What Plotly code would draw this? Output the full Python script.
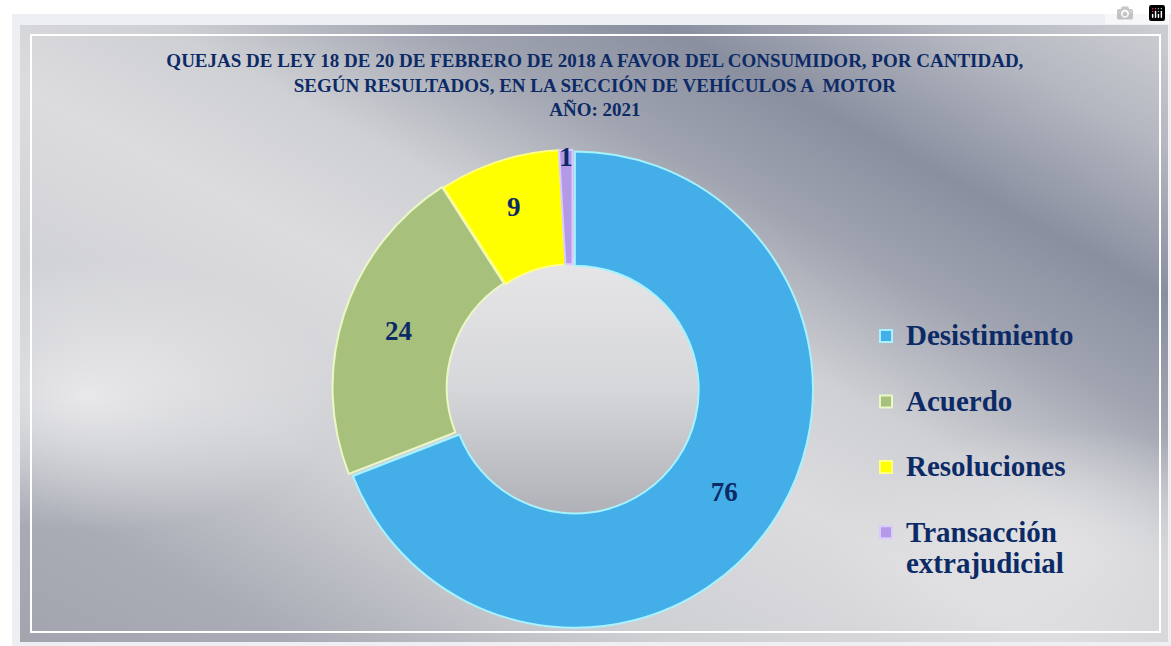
import base64
import plotly.graph_objects as go

# datos del grafico
categorias = ["Desistimiento", "Acuerdo", "Resoluciones", "Transacción<br>extrajudicial"]
cantidades = [76, 24, 9, 1]
colores = ["#43aee8", "#a7c07c", "#ffff00", "#b49ae6"]
bordes = ["#a6f2ff", "#eaf8c6", "#ffff80", "#dccaff"]

titulo = ("QUEJAS DE LEY 18 DE 20 DE FEBRERO DE 2018 A FAVOR DEL CONSUMIDOR, POR CANTIDAD,<br>"
          "SEGÚN RESULTADOS, EN LA SECCIÓN DE VEHÍCULOS A  MOTOR<br>AÑO: 2021")

W, H = 1171, 646
navy = "#0c2a66"

# fondo plateado (imagen svg)
svg = f"""<svg xmlns='http://www.w3.org/2000/svg' width='{W}' height='{H}' viewBox='0 0 {W} {H}' preserveAspectRatio='none'>
<defs>
<linearGradient id='base' x1='0' y1='1' x2='1' y2='0'>
<stop offset='0' stop-color='#a2a5ae'/><stop offset='0.12' stop-color='#a9acb5'/>
<stop offset='0.28' stop-color='#cfd0d4'/><stop offset='0.45' stop-color='#dcdcdf'/>
<stop offset='0.56' stop-color='#cfd0d4'/><stop offset='0.68' stop-color='#a0a4b0'/>
<stop offset='0.78' stop-color='#8a8fa0'/><stop offset='0.9' stop-color='#b4b7c0'/>
<stop offset='1' stop-color='#cdced3'/></linearGradient>
<radialGradient id='l1' cx='0.06' cy='0.6' r='0.22'>
<stop offset='0' stop-color='#ececee' stop-opacity='0.9'/><stop offset='1' stop-color='#ececee' stop-opacity='0'/></radialGradient>
<radialGradient id='l2' cx='0.9' cy='0.85' r='0.2'>
<stop offset='0' stop-color='#e6e6e8' stop-opacity='0.8'/><stop offset='1' stop-color='#e6e6e8' stop-opacity='0'/></radialGradient>
<linearGradient id='hueco' x1='0' y1='0' x2='0' y2='1'>
<stop offset='0' stop-color='#e6e6e8'/><stop offset='0.5' stop-color='#d6d7da'/>
<stop offset='1' stop-color='#aeb0b6'/></linearGradient>
</defs>
<rect width='{W}' height='{H}' fill='white'/>
<rect x='12' y='14' width='1160' height='632' fill='#eeeff2'/>
<rect x='20' y='25' width='1148' height='617' fill='url(#base)'/>
<rect x='20' y='25' width='1148' height='617' fill='url(#l1)'/>
<rect x='20' y='25' width='1148' height='617' fill='url(#l2)'/>
<circle cx='572' cy='388' r='130' fill='url(#hueco)'/>
<rect x='31' y='35' width='1129' height='597' fill='none' stroke='white' stroke-width='2'/>
</svg>"""
fondo = "data:image/svg+xml;base64," + base64.b64encode(svg.encode()).decode()

# etiquetas de leyenda: texto grande y una linea vacia para separar las entradas
leyenda = []
for c in categorias:
    partes = c.split("<br>")
    txt = "<br>".join(f"<span style='font-size:29px'>{p}</span>" for p in partes)
    leyenda.append(txt if len(partes) > 1 else txt + "<br> ")

fig = go.Figure(go.Pie(
    labels=leyenda,
    values=cantidades,
    hole=0.52,
    sort=False,
    direction="clockwise",
    rotation=0,
    pull=[0.012, 0.008, 0, 0],
    marker=dict(colors=colores, line=dict(color=bordes, width=2)),
    textinfo="value",
    textposition="inside",
    insidetextorientation="horizontal",
    textfont=dict(family="Liberation Serif", size=27, color=navy, weight="bold"),
    domain=dict(x=[331 / W, 814 / W], y=[1 - 629 / H, 1 - 147 / H]),
))

fig.update_layout(
    width=W, height=H,
    margin=dict(l=0, r=0, t=0, b=0),
    paper_bgcolor="white",
    images=[dict(source=fondo, xref="paper", yref="paper", x=0, y=1, sizex=1, sizey=1,
                 sizing="stretch", layer="below", xanchor="left", yanchor="top")],
    title=dict(text=titulo, x=0.508, xanchor="center", y=1 - 67 / H, yanchor="top",
               font=dict(family="Liberation Serif", size=19, color=navy, weight="bold")),
    legend=dict(x=866 / W, xanchor="left", y=1 - 314 / H, yanchor="top", valign="top",
                bgcolor="rgba(0,0,0,0)",
                font=dict(family="Liberation Serif", size=24, color=navy, weight="bold")),
    uniformtext=dict(minsize=27, mode="show"),
)

fig.write_html("out.html", post_script="document.body.style.margin='0px';")
